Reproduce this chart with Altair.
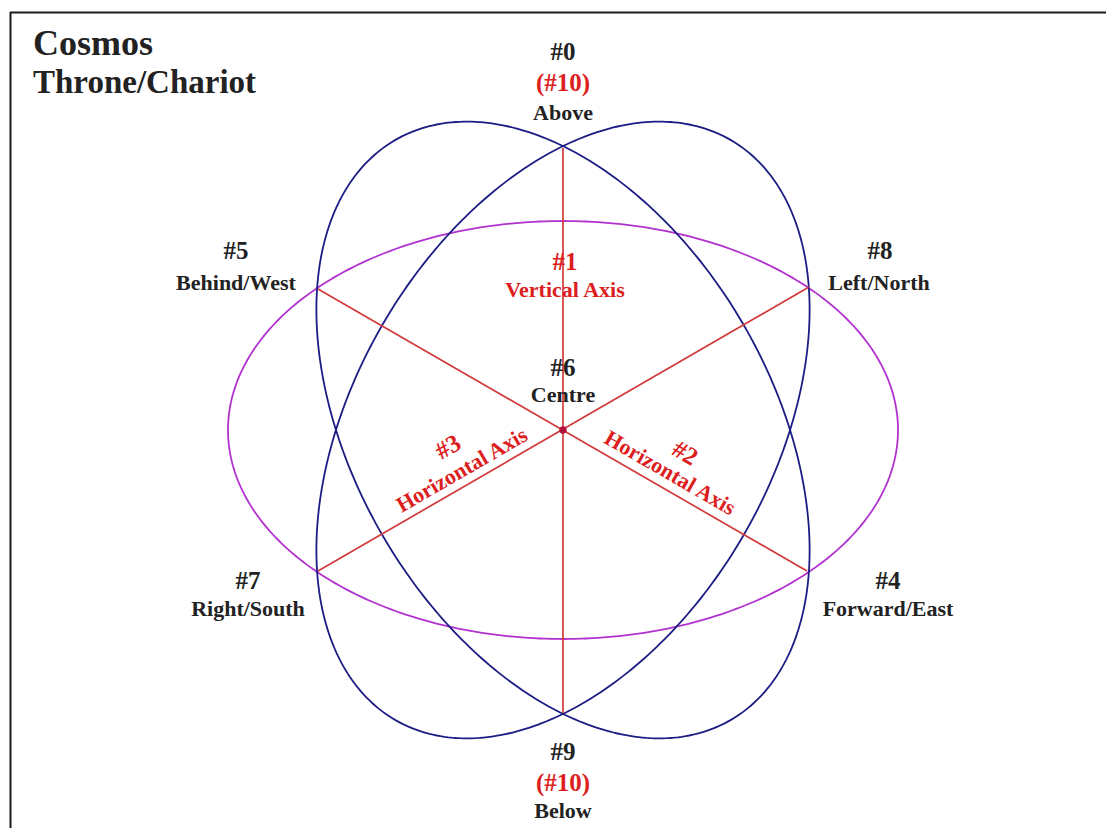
import altair as alt
import numpy as np
import pandas as pd

# ---- Geometry (diagram units = pixels, y up, origin at "Centre") ----
CENTRE_PX = (563, 430)          # page position of the centre node
VIEW_RIGHT, VIEW_BOTTOM, MARGIN = 1106, 828, 8

# The three orbits: one ellipse, drawn at three rotations
ELLIPSE_ROTATION_DEG = [0, 60, 120]
ELLIPSE_SEMI_MAJOR = [335, 335, 335]
ELLIPSE_SEMI_MINOR = [209, 209, 209]
ELLIPSE_COLORS = ["#b232cf", "#1c1c84", "#1c1c84"]

# Nodes where the orbits cross (ends of the three axes)
NODE_IDS = ["#0", "#9", "#5", "#4", "#8", "#7"]
NODE_X = [0, 0, -245, 244, 246, -245]
NODE_Y = [282, -283, 141, -141, 143, -141]
AXIS_FROM = ["#0", "#5", "#8"]
AXIS_TO = ["#9", "#4", "#7"]

# Labels
LABEL_TEXT = ["#0", "(#10)", "Above",
              "#5", "Behind/West",
              "#8", "Left/North",
              "#1", "Vertical Axis",
              "#6", "Centre",
              "#3", "Horizontal Axis",
              "#2", "Horizontal Axis",
              "#7", "Right/South",
              "#4", "Forward/East",
              "#9", "(#10)", "Below"]
LABEL_X = [0, 0, 0, -327, -327, 317, 316, 2, 2, 0, 0,
           -115, -101, 122, 107, -315, -315, 325, 325, 0, 0, 0]
LABEL_Y = [378, 347, 317, 179, 147, 179, 147, 168, 140, 62, 35,
           -17, -40, -23, -43, -151, -179, -151, -179, -322, -353, -381]
LABEL_ANGLE = [0, 0, 0, 0, 0, 0, 0, 0, 0, 0, 0,
               330, 330, 30, 30, 0, 0, 0, 0, 0, 0, 0]
LABEL_RED = [False, True, False, False, False, False, False, True, True, False, False,
             True, True, True, True, False, False, False, False, False, True, False]
LABEL_IS_NUMBER = [t.startswith("#") or t.startswith("(#") for t in LABEL_TEXT]

TITLE_LINES = ["Cosmos", "Throne/Chariot"]
TITLE_X = [-530, -530]
TITLE_Y = [375, 337]
TITLE_SIZE = [36, 33]

BLACK = "#222222"
RED = "#dc1e1e"
LINE_RED = "#d23a3a"
FONT = "Liberation Serif"

# ---- Build tables ----
rows = []
t = np.linspace(0, 2 * np.pi, 361)
for i, (rot, a, b) in enumerate(zip(ELLIPSE_ROTATION_DEG, ELLIPSE_SEMI_MAJOR, ELLIPSE_SEMI_MINOR)):
    r = np.deg2rad(rot)
    ex = a * np.cos(t) * np.cos(r) - b * np.sin(t) * np.sin(r)
    ey = a * np.cos(t) * np.sin(r) + b * np.sin(t) * np.cos(r)
    for k in range(len(t)):
        rows.append({"ellipse": i, "order": k, "x": ex[k], "y": ey[k], "color": ELLIPSE_COLORS[i]})
ellipses = pd.DataFrame(rows)

node_pos = {n: (x, y) for n, x, y in zip(NODE_IDS, NODE_X, NODE_Y)}
axes_df = pd.DataFrame({
    "x": [node_pos[a][0] for a in AXIS_FROM],
    "y": [node_pos[a][1] for a in AXIS_FROM],
    "x2": [node_pos[b][0] for b in AXIS_TO],
    "y2": [node_pos[b][1] for b in AXIS_TO],
})

labels = pd.DataFrame({
    "text": LABEL_TEXT, "x": LABEL_X, "y": LABEL_Y, "angle": LABEL_ANGLE,
    "color": [RED if r else BLACK for r in LABEL_RED],
    "size": [25 if n else 22 for n in LABEL_IS_NUMBER],
})
titles = pd.DataFrame({"text": TITLE_LINES, "x": TITLE_X, "y": TITLE_Y, "size": TITLE_SIZE})

x0 = MARGIN - CENTRE_PX[0]
x1 = VIEW_RIGHT - CENTRE_PX[0]
y0 = CENTRE_PX[1] - VIEW_BOTTOM
y1 = CENTRE_PX[1] - MARGIN
frame = pd.DataFrame({
    "x": [10.5 - CENTRE_PX[0], 10 - CENTRE_PX[0]],
    "y": [CENTRE_PX[1] - 12, CENTRE_PX[1] - 12.5],
    "x2": [10.5 - CENTRE_PX[0], x1],
    "y2": [y0, CENTRE_PX[1] - 12.5],
})
centre = pd.DataFrame({"x": [0], "y": [0]})

xs = alt.Scale(domain=[x0, x1], nice=False, zero=False)
ys = alt.Scale(domain=[y0, y1], nice=False, zero=False)
X = alt.X("x:Q", scale=xs, axis=None)
Y = alt.Y("y:Q", scale=ys, axis=None)

frame_layer = alt.Chart(frame).mark_rule(color="#1a1a1a", strokeWidth=2).encode(
    x=X, y=Y, x2="x2:Q", y2="y2:Q")

ellipse_layer = alt.Chart(ellipses).mark_line(strokeWidth=1.8).encode(
    x=X, y=Y, detail="ellipse:N", order="order:Q",
    color=alt.Color("color:N", scale=None))

axis_layer = alt.Chart(axes_df).mark_rule(color=LINE_RED, strokeWidth=1.7).encode(
    x=X, y=Y, x2="x2:Q", y2="y2:Q")

centre_layer = alt.Chart(centre).mark_circle(size=55, color="#b0123c", opacity=1).encode(x=X, y=Y)

label_layer = alt.Chart(labels).mark_text(font=FONT, fontWeight="bold", baseline="middle", align="center").encode(
    x=X, y=Y, text="text:N",
    angle=alt.Angle("angle:Q", scale=None),
    color=alt.Color("color:N", scale=None),
    size=alt.Size("size:Q", scale=None))

title_layer = alt.Chart(titles).mark_text(font=FONT, fontWeight="bold", align="left",
                                          baseline="alphabetic", color=BLACK).encode(
    x=X, y=Y, text="text:N", size=alt.Size("size:Q", scale=None))

chart = alt.layer(frame_layer, ellipse_layer, axis_layer, centre_layer, label_layer, title_layer).properties(
    width=VIEW_RIGHT - MARGIN, height=VIEW_BOTTOM - MARGIN,
    autosize=alt.AutoSizeParams(type="none"), padding=0,
    background="white",
).configure_view(stroke=None)

chart.save("out.html", embed_options={"renderer": "svg", "actions": False})
